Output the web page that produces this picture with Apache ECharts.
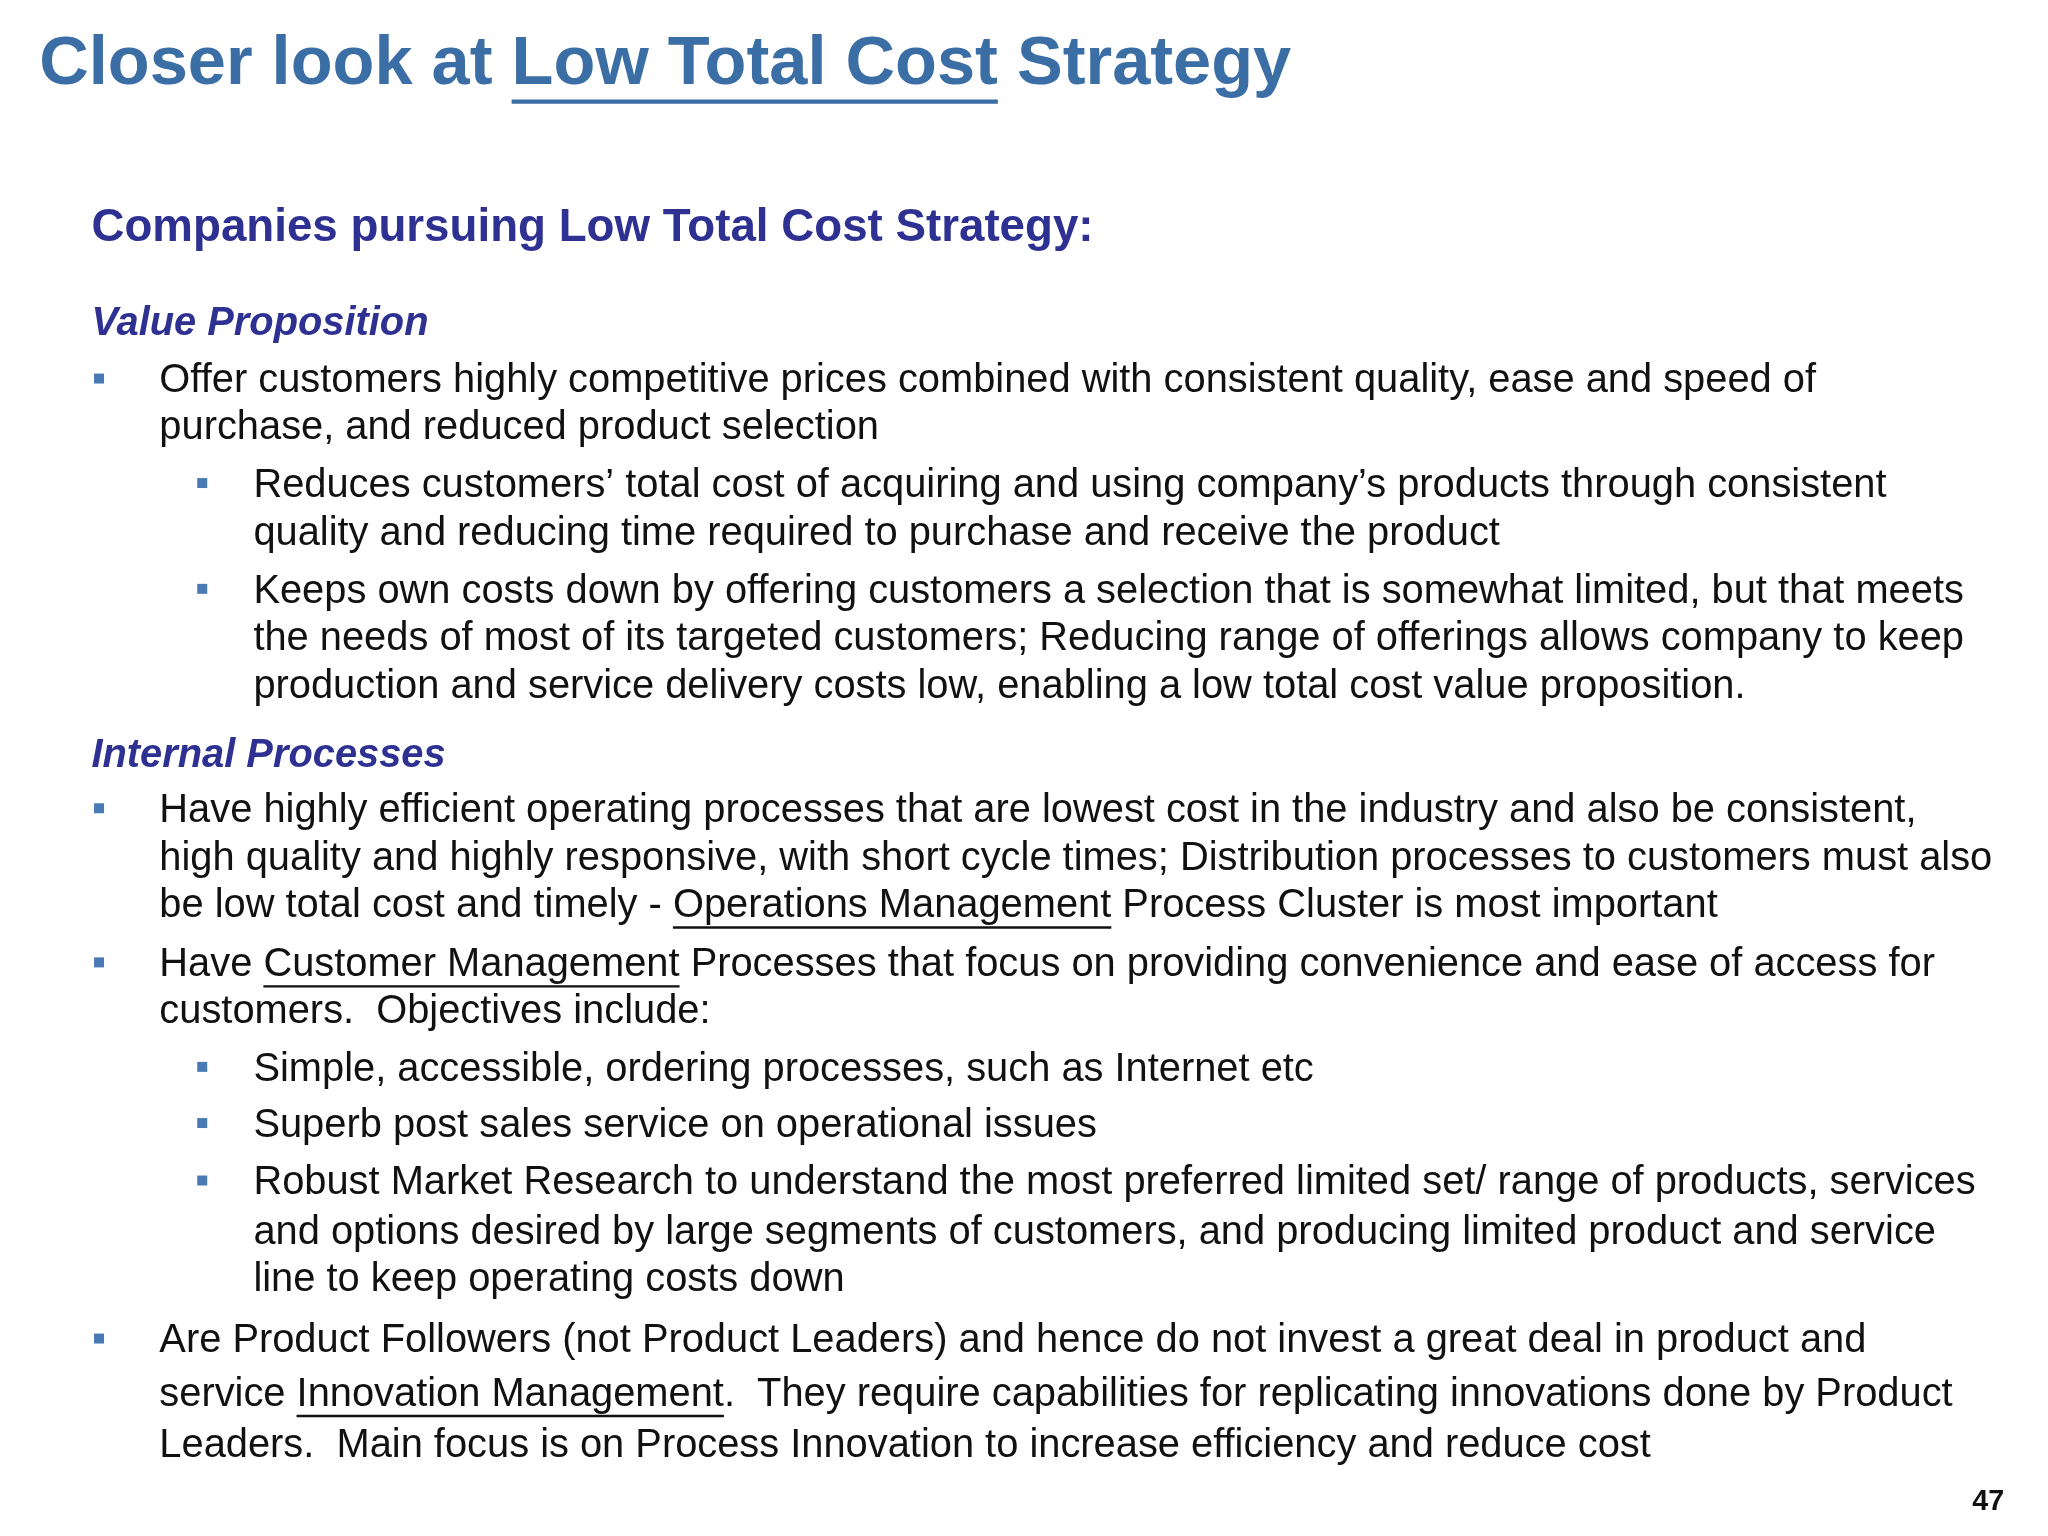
<!DOCTYPE html>
<html><head><meta charset="utf-8">
<script src="https://cdn.jsdelivr.net/npm/echarts@6/dist/echarts.min.js"></script>
<style>html,body{margin:0;padding:0;background:#fff}#c{width:2048px;height:1536px}</style>
</head><body><div id="c"></div>
<script>
const titleParts = [["Closer look at ",false],["Low Total Cost",true],[" Strategy",false]];
const subtitle = "Companies pursuing Low Total Cost Strategy:";
const lines = [
 [0,[["Value Proposition",false]]],
 [1,[["Offer customers highly competitive prices combined with consistent quality, ease and speed of",false]]],
 [1.5,[["purchase, and reduced product selection",false]]],
 [2,[["Reduces customers’ total cost of acquiring and using company’s products through consistent",false]]],
 [2.5,[["quality and reducing time required to purchase and receive the product",false]]],
 [2,[["Keeps own costs down by offering customers a selection that is somewhat limited, but that meets",false]]],
 [2.5,[["the needs of most of its targeted customers; Reducing range of offerings allows company to keep",false]]],
 [2.5,[["production and service delivery costs low, enabling a low total cost value proposition.",false]]],
 [0,[["Internal Processes",false]]],
 [1,[["Have highly efficient operating processes that are lowest cost in the industry and also be consistent,",false]]],
 [1.5,[["high quality and highly responsive, with short cycle times; Distribution processes to customers must also",false]]],
 [1.5,[["be low total cost and timely - ",false],["Operations Management",true],[" Process Cluster is most important",false]]],
 [1,[["Have ",false],["Customer Management",true],[" Processes that focus on providing convenience and ease of access for",false]]],
 [1.5,[["customers.  Objectives include:",false]]],
 [2,[["Simple, accessible, ordering processes, such as Internet etc",false]]],
 [2,[["Superb post sales service on operational issues",false]]],
 [2,[["Robust Market Research to understand the most preferred limited set/ range of products, services",false]]],
 [2.5,[["and options desired by large segments of customers, and producing limited product and service",false]]],
 [2.5,[["line to keep operating costs down",false]]],
 [1,[["Are Product Followers (not Product Leaders) and hence do not invest a great deal in product and",false]]],
 [1.5,[["service ",false],["Innovation Management",true],[".  They require capabilities for replicating innovations done by Product",false]]],
 [1.5,[["Leaders.  Main focus is on Process Innovation to increase efficiency and reduce cost",false]]]
];
const pageNumber = "47";
const S = 2048/1568;
const lineY = [248,292,328,372,409,453,489,526,579,621,658,694,739,775,819,862,906,944,980,1027,1068,1107];
const FF = '"Liberation Sans", Arial, sans-serif';
const cv = document.createElement('canvas').getContext('2d');
function w(t,font){cv.font=font;return cv.measureText(t).width;}
const g = [];
function segs(parts,x,y,size,weight,style,color){
  const font = `${style} ${weight} ${size}px ${FF}`;
  let cx=x;
  parts.forEach(([t,u])=>{
    g.push({type:'text',x:cx,y:y,style:{text:t,font:font,fill:color,textVerticalAlign:'middle',verticalAlign:'middle'}});
    const tw=w(t,font);
    if(u) g.push({type:'rect',shape:{x:cx,y:y+size*0.5,width:tw,height:Math.max(2,size*0.06)},style:{fill:color}});
    cx+=tw;
  });
}
segs(titleParts,30*S,50*S,52.5*S,'bold','normal','#3a6ea5');
segs([[subtitle,false]],70*S,175*S,35*S,'bold','normal','#2e3192');
const bodySize=30.5*S;
lines.forEach((ln,i)=>{
  const lv=ln[0], y=lineY[i]*S;
  if(lv===0){segs(ln[1],70*S,y,30.5*S,'bold','italic','#2e3192');return;}
  let x = (lv<2)?122*S:194*S;
  if(lv===1||lv===2){
    const bx=(lv===1?72:151)*S;
    g.push({type:'rect',shape:{x:bx,y:y-6*S,width:10,height:10},style:{fill:'#4a7ab5'}});
  }
  segs(ln[1],x,y,bodySize,'normal','normal','#111');
});
segs([[pageNumber,false]],1510*S,1150*S,22*S,'bold','normal','#111');
const chart=echarts.init(document.getElementById('c'));
chart.setOption({backgroundColor:'#fff',graphic:{elements:g}});
</script></body></html>
